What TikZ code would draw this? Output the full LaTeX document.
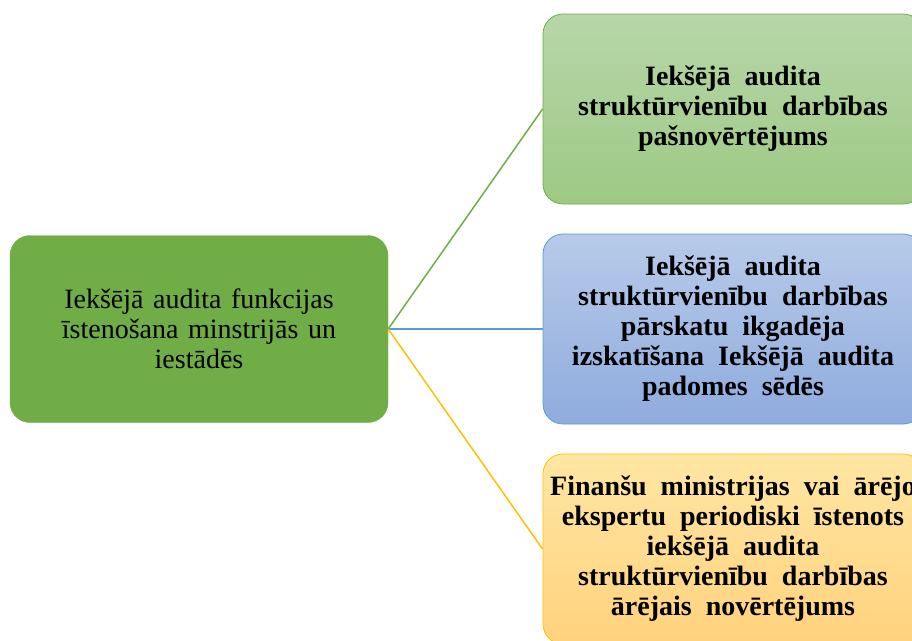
\documentclass[tikz,border=0pt]{standalone}
\usepackage{fontspec}
\setmainfont{Liberation Serif}
\definecolor{accgreen}{RGB}{112,173,71}
\definecolor{accblue}{RGB}{91,155,213}
\definecolor{accgold}{RGB}{255,192,0}
\definecolor{greentop}{RGB}{183,214,169}
\definecolor{greenbot}{RGB}{157,201,132}
\definecolor{bluetop}{RGB}{183,202,233}
\definecolor{bluebot}{RGB}{143,172,222}
\definecolor{goldtop}{RGB}{255,230,163}
\definecolor{goldbot}{RGB}{255,210,125}
% text settings for the two kinds of boxes
\newcommand{\rootfont}{\fontsize{28}{30}\selectfont\spaceskip=9.5pt\relax}
\newcommand{\leaffont}{\fontsize{28}{30}\selectfont\bfseries\spaceskip=14pt\relax}
\tikzset{
  rootbox/.style={rounded corners=20pt, fill=accgreen, draw=accgreen,
    minimum width=378pt, minimum height=187pt, align=center,
    font=\rootfont, inner sep=0pt},
  leafbox/.style={rounded corners=20pt, line width=0.8pt,
    minimum width=380pt, minimum height=190pt, align=center,
    font=\leaffont, inner sep=0pt},
  link/.style={line width=1.5pt}
}
\begin{document}
\begin{tikzpicture}[x=1pt,y=-1pt]
  \path[use as bounding box] (0,0) rectangle (912,640);
  \clip (0,0) rectangle (912,640);
  \node[rootbox] (root) at (199,329)
    {Iekšējā audita funkcijas\\ īstenošana minstrijās un\\ iestādēs};
  \node[leafbox, draw=accgreen, top color=greentop, bottom color=greenbot] (self) at (733,109)
    {Iekšējā audita\\ struktūrvienību darbības\\ pašnovērtējums};
  \node[leafbox, draw=accblue, top color=bluetop, bottom color=bluebot] (board) at (733,329)
    {Iekšējā audita\\ struktūrvienību darbības\\ pārskatu ikgadēja\\ izskatīšana Iekšējā audita\\ padomes sēdēs};
  \node[leafbox, draw=accgold, top color=goldtop, bottom color=goldbot] (ext) at (733,549)
    {Finanšu ministrijas vai ārējo\\ ekspertu periodiski īstenots\\ iekšējā audita\\ struktūrvienību darbības\\ ārējais novērtējums};
  \draw[link, accgreen] (root.east) -- (self.west);
  \draw[link, accblue] (root.east) -- (board.west);
  \draw[link, accgold] (root.east) -- (ext.west);
\end{tikzpicture}
\end{document}
